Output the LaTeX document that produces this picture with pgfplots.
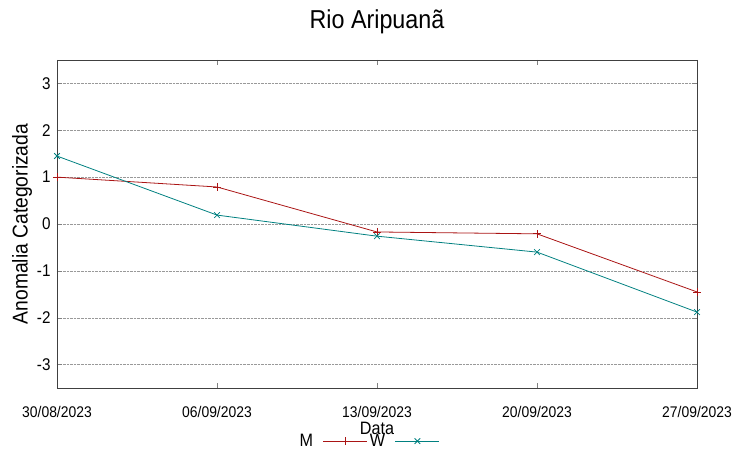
\documentclass[border=0pt]{standalone}
\usepackage{pgfplots}
\pgfplotsset{compat=1.18}
\usepackage{fontspec}
\setmainfont[FakeStretch=0.9]{Liberation Sans}
\definecolor{cM}{RGB}{170,20,20}
\definecolor{cW}{RGB}{0,128,128}
\begin{document}
\begin{tikzpicture}[x=1bp,y=1bp]
\useasboundingbox (-57,-70) rectangle (695,388);
\begin{axis}[
  at={(0,0)}, anchor=south west,
  scale only axis, width=640bp, height=328bp,
  xmin=0, xmax=4, ymin=-3.5, ymax=3.5,
  xtick={0,1,2,3,4},
  xticklabels={30/08/2023,06/09/2023,13/09/2023,20/09/2023,27/09/2023},
  ytick={-3,-2,-1,0,1,2,3},
  /pgf/number format/assume math mode=true,
  yticklabel style={font=\fontsize{17}{19}\selectfont, xshift=-3bp},
  xticklabel style={font=\fontsize{15.5}{17}\selectfont, yshift=-15bp},
  tick align=inside, tick pos=both,
  major tick length=5bp,
  ymajorgrids, grid style={densely dotted, gray!80},
  axis line style={black!75, line width=0.8pt},
  title={Rio Aripuanã},
  title style={font=\fontsize{26}{28}\selectfont, at={(axis description cs:0.5,1.098)}, anchor=center},
  xlabel={Data},
  xlabel style={font=\fontsize{18}{20}\selectfont, at={(axis description cs:0.5,-0.122)}, anchor=center},
  ylabel={Anomalia Categorizada},
  ylabel style={font=\fontsize{21.5}{23}\selectfont, at={(axis description cs:-0.0547,0.5)}, anchor=center},
  legend columns=2,
  legend plot pos=right,
  legend style={draw=none, fill=none, font=\fontsize{18}{20}\selectfont,
    at={(0.487,-0.162)}, anchor=center, column sep=0bp, inner sep=0pt,
    /tikz/every odd column/.append style={column sep=8bp},
    /tikz/every even column/.append style={column sep=0bp}},
  legend image code/.code={\draw[#1] (0bp,0bp) -- (22bp,0bp); \draw[#1, only marks] plot coordinates {(22bp,0bp)}; \draw[#1] (22bp,0bp) -- (44bp,0bp);},
]
\addplot[cM, thick, mark=+, mark size=4bp] coordinates {(0,1.0) (1,0.79) (2,-0.17) (3,-0.21) (4,-1.45)};
\addlegendentry{M}
\addplot[cW, thick, mark=x, mark size=4bp] coordinates {(0,1.45) (1,0.19) (2,-0.26) (3,-0.6) (4,-1.88)};
\addlegendentry{W}
\end{axis}
\end{tikzpicture}
\end{document}
